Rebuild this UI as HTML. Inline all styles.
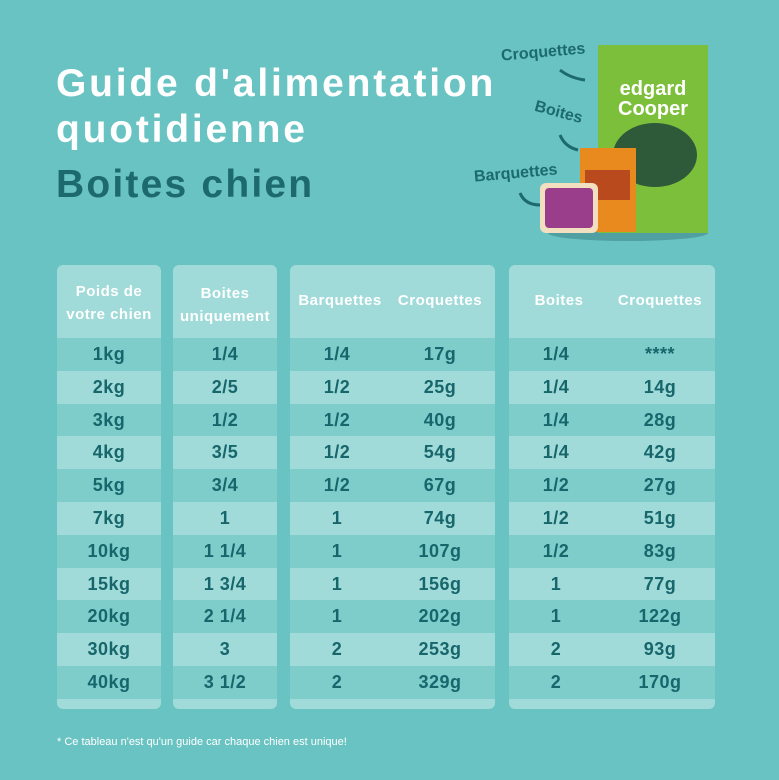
<!DOCTYPE html>
<html><head><meta charset="utf-8"><style>
*{margin:0;padding:0;box-sizing:border-box}
body{width:779px;height:780px;background:#68c3c2;position:relative;overflow:hidden;font-family:"Liberation Sans",sans-serif}
.t{position:absolute;font-weight:bold;white-space:nowrap}
.box{position:absolute;top:265px;height:444px;background:#a0dbd9;border-radius:6px;overflow:hidden}
.d{background:#7ecdcb}
.h{position:absolute;color:#fff;font-weight:bold;font-size:15px;text-align:center;line-height:23px;letter-spacing:0.5px}
.c{position:absolute;color:#17666b;font-weight:bold;font-size:18px;text-align:center;width:100px;margin-left:-50px;line-height:32.8px;letter-spacing:0.5px}
</style></head><body>
<div class="t" style="left:56px;top:62px;font-size:39px;color:#fff;letter-spacing:2.8px">Guide d'alimentation</div>
<div class="t" style="left:56px;top:108px;font-size:39px;color:#fff;letter-spacing:2.8px">quotidienne</div>
<div class="t" style="left:56px;top:163px;font-size:39px;color:#1d6a6e;letter-spacing:2.2px">Boites chien</div>
<div class="t" style="left:501px;top:44px;font-size:16px;color:#1d6a6e;transform:rotate(-5deg)">Croquettes</div>
<div class="t" style="left:534px;top:104px;font-size:16px;color:#1d6a6e;transform:rotate(15deg)">Boites</div>
<div class="t" style="left:474px;top:165px;font-size:16px;color:#1d6a6e;transform:rotate(-5deg)">Barquettes</div>
<svg style="position:absolute;left:0;top:0" width="779" height="260">
<ellipse cx="628" cy="233" rx="80" ry="8" fill="#4f9fa3"/>
<rect x="598" y="45" width="110" height="188" fill="#7cbf3a"/>
<ellipse cx="655" cy="155" rx="42" ry="32" fill="#2e5a3a"/>
<text x="653" y="95" font-family="Liberation Sans" font-size="20" font-weight="bold" fill="#fff" text-anchor="middle">edgard</text>
<text x="653" y="115" font-family="Liberation Sans" font-size="20" font-weight="bold" fill="#fff" text-anchor="middle">Cooper</text>
<rect x="580" y="148" width="56" height="84" fill="#e88a1e"/>
<rect x="585" y="170" width="45" height="30" fill="#b94a1d"/>
<rect x="540" y="183" width="58" height="50" rx="6" fill="#f1dfc0"/>
<rect x="545" y="188" width="48" height="40" rx="4" fill="#9a3d8a"/>
<path d="M560 70 q10 8 25 10" stroke="#1d6a6e" stroke-width="3" fill="none"/>
<path d="M560 135 q5 12 18 15" stroke="#1d6a6e" stroke-width="3" fill="none"/>
<path d="M520 193 q5 12 20 12" stroke="#1d6a6e" stroke-width="3" fill="none"/>
</svg>
<div class="box" style="left:57px;width:104px"></div>
<div class="box" style="left:173px;width:104px"></div>
<div class="box" style="left:290px;width:205px"></div>
<div class="box" style="left:509px;width:206px"></div>
<div id="rows"></div>
<div class="h" style="left:57px;width:104px;top:280px">Poids de<br>votre chien</div>
<div class="h" style="left:173px;width:104px;top:282px">Boites<br>uniquement</div>
<div class="h" style="left:290px;width:100px;top:289px">Barquettes</div>
<div class="h" style="left:390px;width:100px;top:289px">Croquettes</div>
<div class="h" style="left:509px;width:100px;top:289px">Boites</div>
<div class="h" style="left:610px;width:100px;top:289px">Croquettes</div>
<div class="t" style="left:57px;top:736px;font-size:11px;color:#fff;font-weight:normal">* Ce tableau n'est qu'un guide car chaque chien est unique!</div>
<script>
var d=[["1kg","1/4","1/4","17g","1/4","****"],["2kg","2/5","1/2","25g","1/4","14g"],["3kg","1/2","1/2","40g","1/4","28g"],["4kg","3/5","1/2","54g","1/4","42g"],["5kg","3/4","1/2","67g","1/2","27g"],["7kg","1","1","74g","1/2","51g"],["10kg","1 1/4","1","107g","1/2","83g"],["15kg","1 3/4","1","156g","1","77g"],["20kg","2 1/4","1","202g","1","122g"],["30kg","3","2","253g","2","93g"],["40kg","3 1/2","2","329g","2","170g"]];
var boxes=[[57,104],[173,104],[290,205],[509,206]],xs=[109,225,337,440,556,660],h="";
d.forEach(function(r,i){var y=338+i*32.8;
if(i%2==0)boxes.forEach(function(b){h+='<div class="d" style="position:absolute;left:'+b[0]+'px;width:'+b[1]+'px;top:'+y+'px;height:32.8px"></div>'});
r.forEach(function(v,j){h+='<div class="c" style="left:'+xs[j]+'px;top:'+y+'px">'+v+'</div>'});});
document.getElementById("rows").innerHTML=h;
</script>
</body></html>
